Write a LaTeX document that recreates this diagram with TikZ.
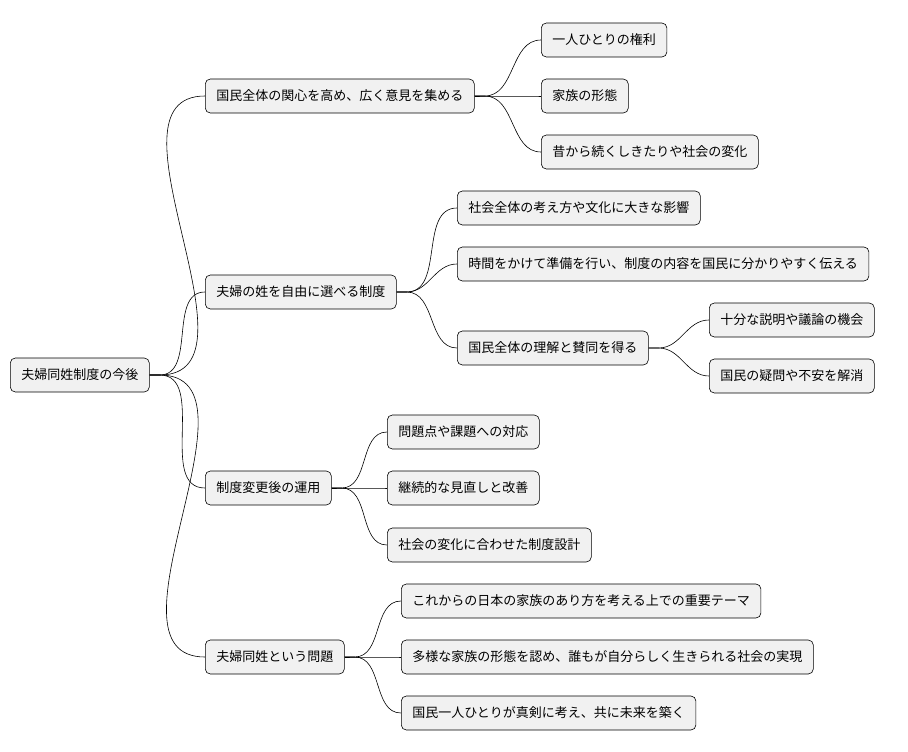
\documentclass[tikz,border=0pt]{standalone}
\usepackage{fontspec}
\setmainfont{Noto Sans CJK JP}
\usetikzlibrary{positioning}
\definecolor{boxfill}{HTML}{F1F1F1}
\begin{document}
\begin{tikzpicture}[x=1pt,y=-1pt,semithick,
  topic/.style={draw, rounded corners=5pt, fill=boxfill, anchor=west, minimum height=34pt, inner xsep=11pt, font=\fontsize{13pt}{15pt}\selectfont},
  branch/.style={draw, line width=0.6pt}]
  \useasboundingbox (0,0) rectangle (908,752);
  \node[topic] (root) at (10,375) {夫婦同姓制度の今後};

  \node[topic] (care) at (205,96) {国民全体の関心を高め、広く意見を集める};
  \node[topic] (free) at (205,292) {夫婦の姓を自由に選べる制度};
  \node[topic] (oper) at (205,488) {制度変更後の運用};
  \node[topic] (same) at (205,657) {夫婦同姓という問題};

  \node[topic] (care1) at (541,40) {一人ひとりの権利};
  \node[topic] (care2) at (541,96) {家族の形態};
  \node[topic] (care3) at (541,152) {昔から続くしきたりや社会の変化};

  \node[topic] (free1) at (457,208) {社会全体の考え方や文化に大きな影響};
  \node[topic] (free2) at (457,264) {時間をかけて準備を行い、制度の内容を国民に分かりやすく伝える};
  \node[topic] (free3) at (457,348) {国民全体の理解と賛同を得る};
  \node[topic] (agree1) at (709,320) {十分な説明や議論の機会};
  \node[topic] (agree2) at (709,376) {国民の疑問や不安を解消};

  \node[topic] (oper1) at (387,432) {問題点や課題への対応};
  \node[topic] (oper2) at (387,488) {継続的な見直しと改善};
  \node[topic] (oper3) at (387,545) {社会の変化に合わせた制度設計};

  \node[topic] (same1) at (401,601) {これからの日本の家族のあり方を考える上での重要テーマ};
  \node[topic] (same2) at (401,657) {多様な家族の形態を認め、誰もが自分らしく生きられる社会の実現};
  \node[topic] (same3) at (401,713) {国民一人ひとりが真剣に考え、共に未来を築く};

  % connectors
  \foreach \p/\c in {root/care, root/free, root/oper, root/same,
                     care/care1, care/care2, care/care3,
                     free/free1, free/free2, free/free3,
                     free3/agree1, free3/agree2,
                     oper/oper1, oper/oper2, oper/oper3,
                     same/same1, same/same2, same/same3}
    \draw[branch] (\p.east) -- ++(10,0) to[out=0,in=180] (\c.west);
\end{tikzpicture}
\end{document}
